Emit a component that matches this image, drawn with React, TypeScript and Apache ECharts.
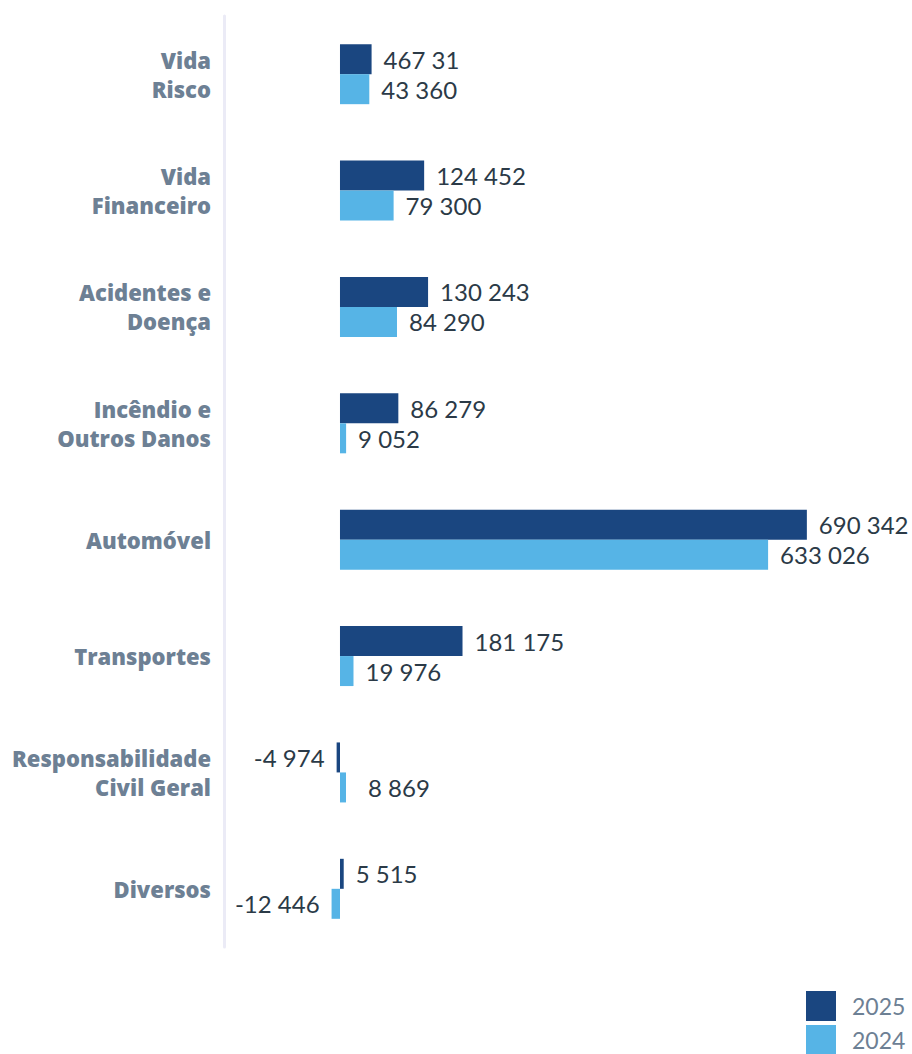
import React, { useEffect, useRef } from "react";
import * as echarts from "echarts";

const categories = [
  "Vida\nRisco",
  "Vida\nFinanceiro",
  "Acidentes e\nDoença",
  "Incêndio e\nOutros Danos",
  "Automóvel",
  "Transportes",
  "Responsabilidade\nCivil Geral",
  "Diversos",
];
const values2025 = [46731, 124452, 130243, 86279, 690342, 181175, -4974, 5515];
const labels2025 = ["467 31", "124 452", "130 243", "86 279", "690 342", "181 175", "-4 974", "5 515"];
const values2024 = [43360, 79300, 84290, 9052, 633026, 19976, 8869, -12446];
const labels2024 = ["43 360", "79 300", "84 290", "9 052", "633 026", "19 976", "8 869", "-12 446"];
const seriesNames = ["2025", "2024"];

const COLOR_2025 = "#1a4680";
const COLOR_2024 = "#56b4e6";
const VALUE_COLOR = "#2b3a47";
const CAT_COLOR = "#6d8094";
const FONT = "Lato, 'Open Sans', sans-serif";

function makeData(values: number[], labels: string[], extraOffset: Record<number, number> = {}) {
  return values.map((v, i) => ({
    value: v,
    label: {
      position: v < 0 ? "left" : "right",
      distance: 12,
      offset: [extraOffset[i] || 0, 0],
      formatter: () => labels[i],
    },
  }));
}

export default function App() {
  const ref = useRef<HTMLDivElement>(null);
  useEffect(() => {
    if (!ref.current) return;
    const chart = echarts.init(ref.current, null, { renderer: "svg" });
    const labelStyle = {
      show: true,
      color: VALUE_COLOR,
      fontSize: 24,
      fontFamily: FONT,
    };
    const legendCommon = {
      orient: "vertical",
      left: 806,
      padding: 0,
      itemWidth: 30,
      itemHeight: 30,
      icon: "rect",
      textStyle: { color: CAT_COLOR, fontSize: 23, lineHeight: 24, fontFamily: FONT, padding: [0, 0, 0, 11] },
    };
    chart.setOption({
      animation: false,
      grid: { left: 224, top: 16, width: 688, height: 931, containLabel: false },
      legend: [
        { ...legendCommon, top: 991, data: [seriesNames[0]] },
        { ...legendCommon, top: 1025, data: [seriesNames[1]] },
      ],
      xAxis: {
        type: "value",
        min: -171500,
        max: 845800,
        show: false,
        splitLine: { show: false },
      },
      yAxis: {
        type: "category",
        inverse: true,
        data: categories,
        axisLine: { show: true, onZero: false, lineStyle: { color: "#ebebf6", width: 3 } },
        axisTick: { show: false },
        axisLabel: {
          color: CAT_COLOR,
          fontSize: 22,
          fontWeight: 800,
          fontFamily: "'Open Sans', sans-serif",
          align: "right",
          margin: 13,
          lineHeight: 29,
        },
      },
      series: [
        {
          name: seriesNames[0],
          type: "bar",
          barWidth: 30,
          barGap: "0%",
          itemStyle: { color: COLOR_2025 },
          label: labelStyle,
          data: makeData(values2025, labels2025),
        },
        {
          name: seriesNames[1],
          type: "bar",
          barWidth: 30,
          barGap: "0%",
          itemStyle: { color: COLOR_2024 },
          label: labelStyle,
          data: makeData(values2024, labels2024, { 6: 10 }),
        },
      ],
    });
    return () => chart.dispose();
  }, []);
  return (
    <div
      ref={ref}
      style={{ position: "absolute", left: 0, top: 0, width: 912, height: 1054 }}
    />
  );
}
